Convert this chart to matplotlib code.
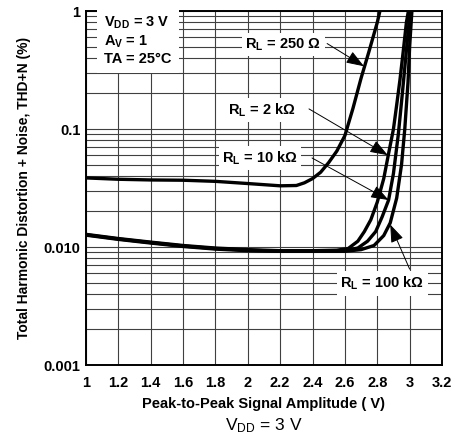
import matplotlib as mpl
mpl.use('Agg')

import matplotlib.pyplot as plt
from matplotlib.ticker import FixedLocator, FixedFormatter, LogLocator, NullFormatter

plt.rcParams['font.family'] = ['Liberation Sans', 'DejaVu Sans']
plt.rcParams['mathtext.fontset'] = 'custom'
plt.rcParams['mathtext.rm'] = 'Liberation Sans'
plt.rcParams['mathtext.bf'] = 'Liberation Sans:bold'

# data (THD+N in %)
x_250 = [1.0, 1.2, 1.4, 1.6, 1.8, 2.0, 2.2, 2.3, 2.35, 2.4, 2.45, 2.5, 2.55,
         2.6, 2.65, 2.7, 2.75, 2.8, 2.82]
y_250 = [0.0385, 0.0375, 0.037, 0.0368, 0.036, 0.0345, 0.033, 0.0332, 0.035,
         0.038, 0.043, 0.052, 0.065, 0.088, 0.15, 0.27, 0.46, 0.8, 1.05]

x_2k = [1.0, 1.2, 1.4, 1.6, 1.8, 2.0, 2.2, 2.4, 2.55, 2.62, 2.68, 2.72, 2.76,
        2.8, 2.84, 2.87, 2.9, 2.92, 2.94, 2.96, 2.98, 2.995]
y_2k = [0.0128, 0.0118, 0.011, 0.0103, 0.0098, 0.0095, 0.0093, 0.0093, 0.0094,
        0.0097, 0.0112, 0.0135, 0.017, 0.024, 0.038, 0.062, 0.1, 0.16, 0.26,
        0.45, 0.8, 1.05]

x_10k = [1.0, 1.2, 1.4, 1.6, 1.8, 2.0, 2.2, 2.4, 2.6, 2.68, 2.74, 2.79, 2.83,
         2.87, 2.9, 2.93, 2.95, 2.97, 2.99, 3.005]
y_10k = [0.0127, 0.0117, 0.0109, 0.0102, 0.0097, 0.0094, 0.0092, 0.0092,
         0.0093, 0.0098, 0.0112, 0.0135, 0.018, 0.025, 0.042, 0.09, 0.17, 0.33,
         0.65, 1.05]

x_100k = [1.0, 1.2, 1.4, 1.6, 1.8, 2.0, 2.2, 2.4, 2.6, 2.7, 2.78, 2.84, 2.88,
          2.92, 2.95, 2.97, 2.99, 3.0, 3.015]
y_100k = [0.0126, 0.0116, 0.0108, 0.0101, 0.0096, 0.0093, 0.0092, 0.0092,
          0.0092, 0.0095, 0.0103, 0.0125, 0.016, 0.026, 0.05, 0.1, 0.25, 0.5,
          1.05]

x_ticks = [1, 1.2, 1.4, 1.6, 1.8, 2, 2.2, 2.4, 2.6, 2.8, 3, 3.2]
x_tick_labels = ['1', '1.2', '1.4', '1.6', '1.8', '2', '2.2', '2.4', '2.6',
                 '2.8', '3', '3.2']
y_ticks = [0.001, 0.01, 0.1, 1]
y_tick_labels = ['0.001', '0.010', '0.1', '1']

fig = plt.figure(figsize=(4.56, 4.44), dpi=100)
ax = fig.add_axes([86 / 456, 1 - 365 / 444, 356 / 456, 354 / 444])

ax.set_yscale('log')
ax.set_xlim(1, 3.2)
ax.set_ylim(0.001, 1)

# grid
ax.xaxis.set_major_locator(FixedLocator(x_ticks))
ax.xaxis.set_major_formatter(FixedFormatter(x_tick_labels))
ax.yaxis.set_major_locator(FixedLocator(y_ticks))
ax.yaxis.set_major_formatter(FixedFormatter(y_tick_labels))
ax.yaxis.set_minor_locator(LogLocator(base=10, subs=range(2, 10)))
ax.yaxis.set_minor_formatter(NullFormatter())
ax.grid(True, which='both', color='#404040', linewidth=0.8)
ax.tick_params(which='both', length=0, labelsize=10.5)
ax.tick_params(axis='y', pad=4)
ax.tick_params(axis='x', pad=8)
for lab in ax.get_xticklabels() + ax.get_yticklabels():
    lab.set_fontweight('bold')
for s in ax.spines.values():
    s.set_linewidth(1.4)
ax.set_axisbelow(True)

curve_kw = dict(color='black', linewidth=2.4, solid_capstyle='butt', zorder=3)
ax.plot(x_250, y_250, **curve_kw)
ax.plot(x_2k, y_2k, **curve_kw)
ax.plot(x_10k, y_10k, **curve_kw)
ax.plot(x_100k, y_100k, **curve_kw)

ax.set_xlabel('Peak-to-Peak Signal Amplitude ( V)', fontsize=10.5,
              fontweight='bold', labelpad=5)
ax.set_ylabel('Total Harmonic Distortion + Noise, THD+N (%)', fontsize=10,
              fontweight='bold', labelpad=9)

box = dict(boxstyle='square,pad=0.25', facecolor='white', edgecolor='none')
arrow = dict(arrowstyle='-|>,head_length=1.1,head_width=0.4', color='black',
             linewidth=0.7, shrinkA=0, shrinkB=0)

# condition box
ax.text(1.11, 0.93,
        '$\\mathbf{V_{DD}}$ = 3 V\n$\\mathbf{A_V}$ = 1\nTA = 25°C',
        fontsize=10.5, fontweight='bold', va='top', ha='left',
        linespacing=1.2, zorder=4,
        bbox=dict(boxstyle='square,pad=0.5', facecolor='white',
                  edgecolor='none'))

labels = [
    ('$\\mathbf{R_L}$ = 250 Ω', (2.218, 0.52), (2.49, 0.53), (2.718, 0.34)),
    ('$\\mathbf{R_L}$ = 2 kΩ', (2.088, 0.145), (2.378, 0.148), (2.865, 0.06)),
    ('$\\mathbf{R_L}$ = 10 kΩ', (2.075, 0.0568), (2.397, 0.0568), (2.87, 0.025)),
    ('$\\mathbf{R_L}$ = 100 kΩ', (2.83, 0.0049), (3.0, 0.0065), (2.88, 0.0155)),
]
for txt, pos, tail, tip in labels:
    ax.annotate('', xy=tip, xytext=tail, arrowprops=arrow, zorder=5)
    ax.text(pos[0], pos[1], txt, fontsize=10.5, fontweight='bold',
            ha='center', va='center', bbox=box, zorder=4)

fig.text(264 / 456, 1 - 426 / 444, '$\\mathrm{V_{DD}}$ = 3 V', fontsize=12.5,
         ha='center', va='center')

fig.savefig('out.png', dpi=100)
